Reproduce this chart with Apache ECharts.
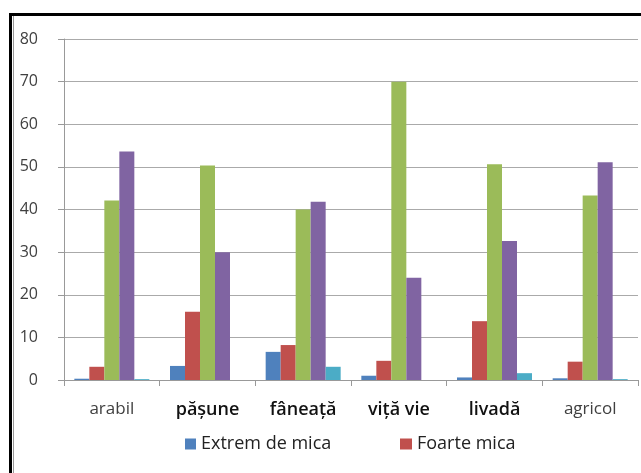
<!DOCTYPE html>
<html><head><meta charset="utf-8">
<script src="https://cdn.jsdelivr.net/npm/echarts@6/dist/echarts.min.js"></script>
<style>html,body{margin:0;padding:0;background:#fff}#c{width:641px;height:473px}</style>
</head><body><div id="c"></div>
<script>
const categories = ['arabil','pășune','fâneață','viță vie','livadă','agricol'];
const seriesNames = ['Extrem de mica','Foarte mica','Mica','Mijlocie','Mare'];
const extremDeMica = [0.3, 3.3, 6.6, 1.0, 0.6, 0.4];
const foarteMica = [3.1, 16.0, 8.2, 4.5, 13.8, 4.3];
const mica = [42.1, 50.3, 40.0, 70.0, 50.6, 43.3];
const mijlocie = [53.6, 30.0, 41.8, 24.0, 32.6, 51.1];
const mare = [0.2, 0, 3.1, 0, 1.6, 0.2];
const yTicks = [0,10,20,30,40,50,60,70,80];
const colors = ['#4F81BD','#C0504D','#9BBB59','#8064A2','#4BACC6'];
const values = [extremDeMica, foarteMica, mica, mijlocie, mare];
const boldCats = ['pășune','fâneață','viță vie','livadă'];

const chart = echarts.init(document.getElementById('c'), null, {renderer:'canvas'});
chart.setOption({
  animation:false,
  graphic:[{type:'rect', shape:{x:10.5,y:14.5,width:700,height:500}, style:{fill:'none',stroke:'#000',lineWidth:3}, silent:true},
           {type:'line', shape:{x1:13.5,y1:16,x2:13.5,y2:480}, style:{stroke:'#999',lineWidth:1}, silent:true}],
  grid:{left:64, top:39, right:3, bottom:93},
  legend:[
    {data:[seriesNames[0]], left:180, top:430, itemWidth:11, itemHeight:11, icon:'rect', itemGap:6,
     textStyle:{fontFamily:'Open Sans', fontSize:18, color:'#222'}},
    {data:[seriesNames[1]], left:395, top:430, itemWidth:12, itemHeight:11, icon:'rect', itemGap:6,
     textStyle:{fontFamily:'Open Sans', fontSize:18, color:'#222'}}
  ],
  xAxis:{type:'category', data:categories, boundaryGap:true,
    axisLine:{lineStyle:{color:'#999'}},
    axisTick:{show:true, length:6, alignWithLabel:false, lineStyle:{color:'#999'}},
    axisLabel:{interval:0, margin:21, fontFamily:'Open Sans', fontSize:17, color:'#404040',
      formatter:v => boldCats.includes(v) ? '{b|'+v+'}' : v,
      rich:{b:{fontFamily:'Open Sans', fontSize:18, fontWeight:600, color:'#111'}}}
  },
  yAxis:{type:'value', min:yTicks[0], max:yTicks[yTicks.length-1], interval:10,
    axisLine:{show:true, lineStyle:{color:'#999'}},
    axisTick:{show:true, length:6, lineStyle:{color:'#999'}},
    axisLabel:{margin:26, fontFamily:'Open Sans', fontSize:16, color:'#404040'},
    splitLine:{lineStyle:{color:'#aaa'}}
  },
  series: seriesNames.map((n,i)=>({name:n, type:'bar', data:values[i], barWidth:15, barGap:'0%',
    itemStyle:{color:colors[i]}}))
});
</script></body></html>
